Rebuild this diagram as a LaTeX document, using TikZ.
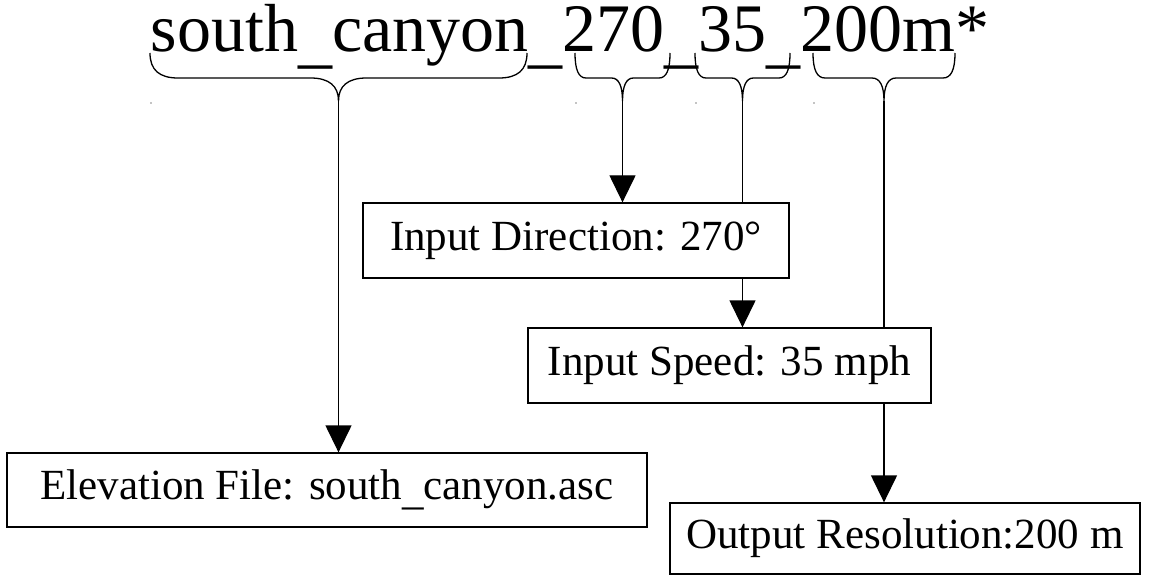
\documentclass[tikz,border=0pt]{standalone}
\usepackage{fontspec}
\setmainfont{Liberation Serif}
\usetikzlibrary{arrows.meta, backgrounds}
\newcommand{\lowus}{\raisebox{-0.13em}{\_}}

\begin{document}
\begin{tikzpicture}[x=1pt, y=-1pt, line width=1.3pt]
\useasboundingbox (0,0) rectangle (1149,575);

\node[anchor=base west, inner sep=0pt, font=\fontsize{68}{80}\selectfont] (fname) at (150,52) {south\lowus canyon\lowus 270\lowus 35\lowus 200m*};

% braces under the parts of the name
\foreach \l/\r/\c/\n in {150/527/28/bfile, 575/670/11/bdir, 695/790/11/bspeed, 813/955/12/bres} {
    \pgfmathsetmacro{\m}{(\l+\r)/2}
    \draw (\l,53) .. controls (\l,70) and (\l+\c/3,78) .. (\l+\c,78) -- (\m-\c,78)
        .. controls (\m-\c/3,78) and (\m,86) .. (\m,101)
        .. controls (\m,86) and (\m+\c/3,78) .. (\m+\c,78) -- (\r-\c,78)
        .. controls (\r-\c/3,78) and (\r,70) .. (\r,53);
    \coordinate (\n) at (\m,101);
    \fill (\l+1,103) circle (0.6pt);
}

\begin{scope}[every node/.style={draw, fill=white, inner sep=0pt, minimum height=75pt, font=\fontsize{43}{50}\selectfont}]
    \node[minimum width=426pt] (dir) at (576,240.5) {Input Direction: 270°};
    \node[minimum width=403pt] (speed) at (729.5,365.5) {Input Speed: 35 mph};
    \node[minimum width=640pt, minimum height=74pt] (elev) at (327,490) {Elevation File: south\lowus canyon.asc};
    \node[minimum width=470pt, minimum height=71pt] (res) at (905,538.5) {Output Resolution:200 m};
\end{scope}

\begin{pgfonlayer}{background}
\begin{scope}[>={Triangle[length=27pt, width=26pt]},
              every edge/.style={draw=black, line width=1.3pt}]
    \path [->] (bfile) edge (bfile |- elev.north);
    \path [->] (bdir) edge (bdir |- dir.north);
    \path [->] (bspeed) edge (bspeed |- speed.north);
    \path [->] (bres) edge (bres |- res.north);
\end{scope}
\end{pgfonlayer}
\end{tikzpicture}
\end{document}
